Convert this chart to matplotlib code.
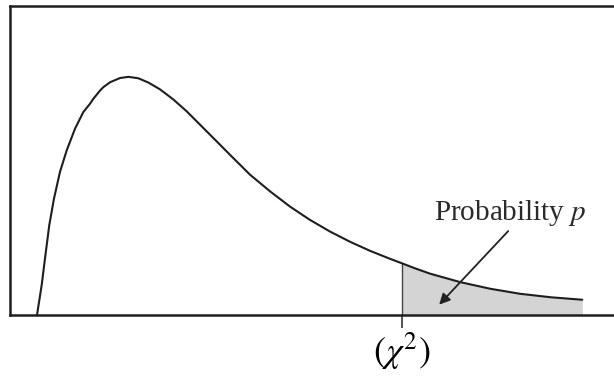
import matplotlib
matplotlib.use("Agg")
import matplotlib.pyplot as plt
import numpy as np

plt.rcParams['font.family'] = ['Liberation Serif', 'DejaVu Serif']
plt.rcParams['mathtext.fontset'] = 'stix'

# Curve: chi-square value vs density
chi_values = [0.0, 0.102, 0.174, 0.267, 0.370, 0.500, 0.646, 0.826, 1.007, 1.152,
              1.224, 1.370, 1.441, 1.587, 1.804, 1.985, 2.202, 2.420, 2.674, 2.963,
              3.254, 3.543, 3.941, 4.20, 4.63, 5.07, 5.50, 5.93, 6.37, 6.80,
              7.24, 7.67, 7.93, 8.20, 8.54, 9.20, 9.85, 10.5, 11.17, 11.85]
density = [0.0, 0.0232, 0.0438, 0.0696, 0.0902, 0.1108, 0.1274, 0.1441, 0.1570, 0.1634,
           0.1672, 0.1736, 0.1762, 0.1800, 0.1833, 0.1842, 0.1831, 0.1798, 0.1745, 0.1667,
           0.1575, 0.1472, 0.1330, 0.1237, 0.1085, 0.0955, 0.0838, 0.0736, 0.0645, 0.0567,
           0.0496, 0.0435, 0.0400, 0.0363, 0.0320, 0.0254, 0.0203, 0.0164, 0.0137, 0.0118]
chi_crit = 7.93
crit_label = r"$(\chi^{2})$"
prob_label = "Probability $p$"

x = np.array(chi_values)
d = np.array(density)

fig = plt.figure(figsize=(6.14, 3.76), dpi=100)
ax = fig.add_axes([10/614, 61/376, 610/614, 309/376])

mask = x >= chi_crit
ax.fill_between(x[mask], 0, d[mask], color='#d4d4d4', lw=0, zorder=1)
ax.plot([chi_crit, chi_crit], [0, d[x == chi_crit][0]], color='#444444', lw=1.0, zorder=2)
ax.plot(x, d, color='#1e1e1e', lw=1.5, solid_capstyle='round', solid_joinstyle='round', zorder=3)

ax.set_xlim(-0.587, 12.67)
ax.set_ylim(0, 0.239)

ax.set_xticks([chi_crit])
ax.set_xticklabels([crit_label], fontsize=26)
ax.tick_params(axis='x', direction='out', length=9, width=1.2, color='#333333', pad=2)
ax.set_yticks([])

for s in ax.spines.values():
    s.set_linewidth(1.8)
    s.set_color('#1e1e1e')

ax.text(10.28, 0.079, prob_label, ha='center', va='center', fontsize=21, color='#2a2a2a')
ax.annotate('', xy=(8.74, 0.0080), xytext=(10.24, 0.0649),
            arrowprops=dict(arrowstyle='-|>', color='#222222', lw=1.3,
                            mutation_scale=16, shrinkA=0, shrinkB=0))

fig.savefig("out.png", dpi=100)
